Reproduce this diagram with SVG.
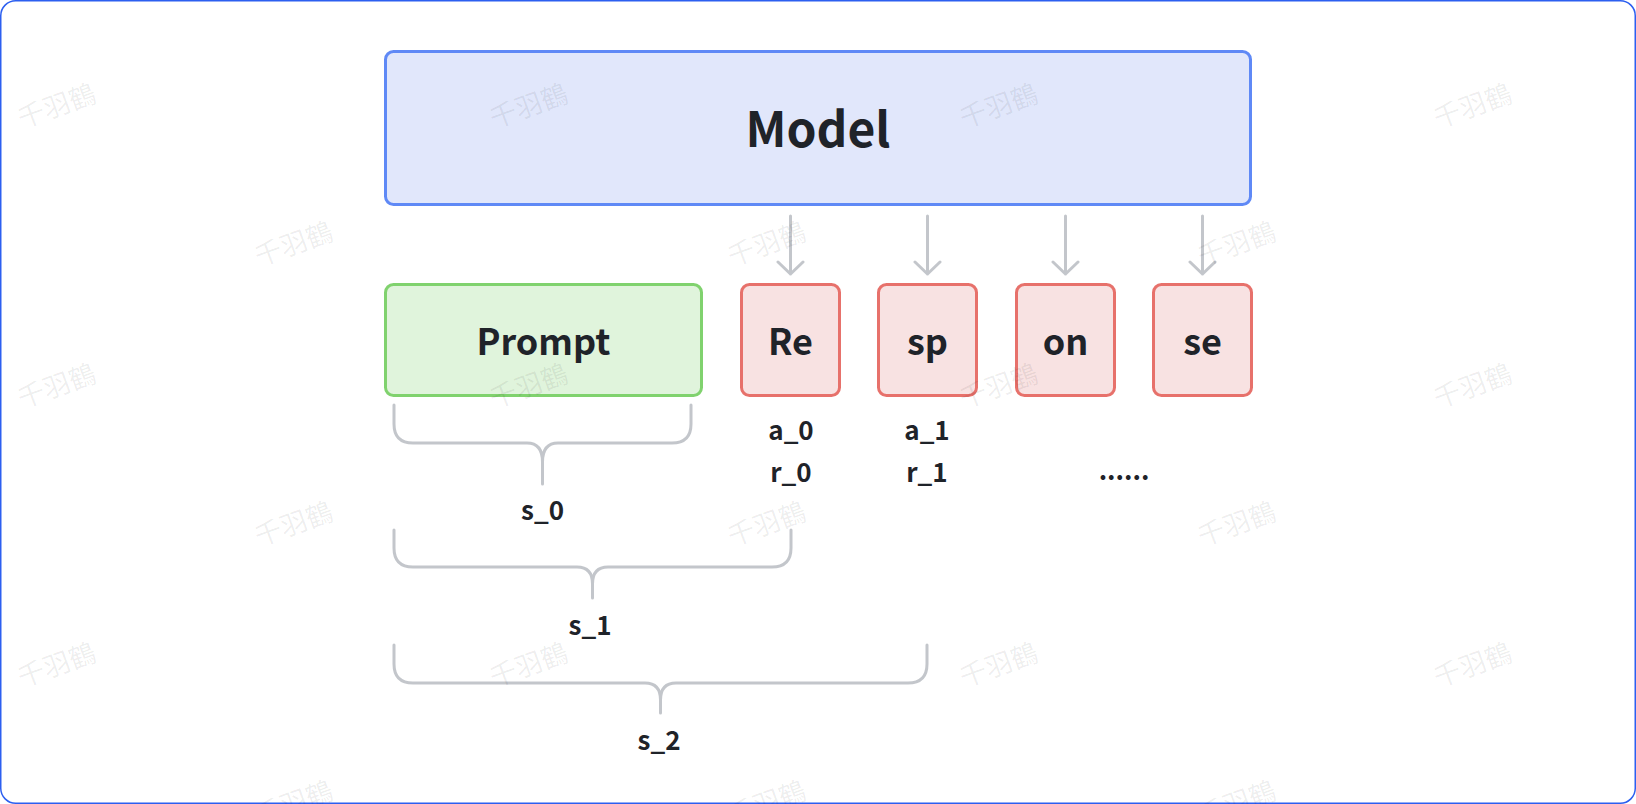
<svg xmlns="http://www.w3.org/2000/svg" width="1636" height="804" viewBox="0 0 1636 804">
<style>
.t{font-family:"Noto Sans CJK SC","Noto Sans",sans-serif;font-weight:700;fill:#1f2329;text-anchor:middle}
.big{font-size:48px}
.mid{font-size:36px}
.sm{font-size:26px}
.model{fill:#e1e7fb;stroke:#5f89f6;stroke-width:3}
.prompt{fill:#e0f4dc;stroke:#80d26e;stroke-width:3}
.resp{fill:#f8e2e2;stroke:#e7716b;stroke-width:3}
.ln{fill:none;stroke:#c3c6cb;stroke-width:3;stroke-linecap:round;stroke-linejoin:round}
.wm{font-family:"Noto Sans CJK SC",sans-serif;font-size:27px;fill:#000;fill-opacity:0.07;text-anchor:middle}
</style>
<rect x="0.75" y="0.75" width="1634.5" height="802.5" rx="15" fill="#fff" stroke="#2c5ff0" stroke-width="1.5"/>
<g id="model"><rect class="model" x="385.5" y="51.5" width="865" height="153" rx="8"/><text class="t big" x="818" y="147">Model</text></g>
<g id="prompt"><rect class="prompt" x="385.5" y="284.5" width="316" height="111" rx="8"/><text class="t mid" x="543.5" y="355">Prompt</text></g>
<g id="tok-re"><rect class="resp" x="741.5" y="284.5" width="98" height="111" rx="8"/><text class="t mid" x="790.5" y="355">Re</text></g>
<g id="tok-sp"><rect class="resp" x="878.5" y="284.5" width="98" height="111" rx="8"/><text class="t mid" x="927.5" y="355">sp</text></g>
<g id="tok-on"><rect class="resp" x="1016.5" y="284.5" width="98" height="111" rx="8"/><text class="t mid" x="1065.5" y="355">on</text></g>
<g id="tok-se"><rect class="resp" x="1153.5" y="284.5" width="98" height="111" rx="8"/><text class="t mid" x="1202.5" y="355">se</text></g>
<g id="connectors">
<path class="ln" d="M790.5,216 V274 M778,262 L790.5,274 L803,262"/>
<path class="ln" d="M927.5,216 V274 M915,262 L927.5,274 L940,262"/>
<path class="ln" d="M1065.5,216 V274 M1053,262 L1065.5,274 L1078,262"/>
<path class="ln" d="M1202.5,216 V274 M1190,262 L1202.5,274 L1215,262"/>
<path class="ln" d="M394,405 V424 Q394,443 413,443 H527 Q542.5,443 542.5,462 V484 M691,405 V424 Q691,443 672,443 H558 Q542.5,443 542.5,462"/>
<path class="ln" d="M394,530 V548 Q394,567 413,567 H577 Q592.5,567 592.5,584 V598 M791,530 V548 Q791,567 772,567 H608 Q592.5,567 592.5,584"/>
<path class="ln" d="M394,645 V664 Q394,683 413,683 H645 Q660.5,683 660.5,700 V713 M927,645 V664 Q927,683 908,683 H676 Q660.5,683 660.5,700"/>
</g>
<g id="labels">
<text class="t sm" x="791" y="440">a_0</text>
<text class="t sm" x="791" y="482">r_0</text>
<text class="t sm" x="927" y="440">a_1</text>
<text class="t sm" x="927" y="482">r_1</text>
<text class="t sm" x="1124" y="480">......</text>
<text class="t sm" x="542.5" y="520">s_0</text>
<text class="t sm" x="590" y="635">s_1</text>
<text class="t sm" x="659" y="750">s_2</text>
</g>
<g id="watermark">
<text class="wm" transform="translate(60,115) rotate(-20)">千羽鶴</text>
<text class="wm" transform="translate(532,115) rotate(-20)">千羽鶴</text>
<text class="wm" transform="translate(1002,115) rotate(-20)">千羽鶴</text>
<text class="wm" transform="translate(1476,115) rotate(-20)">千羽鶴</text>
<text class="wm" transform="translate(297,253) rotate(-20)">千羽鶴</text>
<text class="wm" transform="translate(770,253) rotate(-20)">千羽鶴</text>
<text class="wm" transform="translate(1240,253) rotate(-20)">千羽鶴</text>
<text class="wm" transform="translate(60,395) rotate(-20)">千羽鶴</text>
<text class="wm" transform="translate(532,395) rotate(-20)">千羽鶴</text>
<text class="wm" transform="translate(1002,395) rotate(-20)">千羽鶴</text>
<text class="wm" transform="translate(1476,395) rotate(-20)">千羽鶴</text>
<text class="wm" transform="translate(297,533) rotate(-20)">千羽鶴</text>
<text class="wm" transform="translate(770,533) rotate(-20)">千羽鶴</text>
<text class="wm" transform="translate(1240,533) rotate(-20)">千羽鶴</text>
<text class="wm" transform="translate(60,674) rotate(-20)">千羽鶴</text>
<text class="wm" transform="translate(532,674) rotate(-20)">千羽鶴</text>
<text class="wm" transform="translate(1002,674) rotate(-20)">千羽鶴</text>
<text class="wm" transform="translate(1476,674) rotate(-20)">千羽鶴</text>
<text class="wm" transform="translate(297,812) rotate(-20)">千羽鶴</text>
<text class="wm" transform="translate(770,812) rotate(-20)">千羽鶴</text>
<text class="wm" transform="translate(1240,812) rotate(-20)">千羽鶴</text>
</g>
</svg>
